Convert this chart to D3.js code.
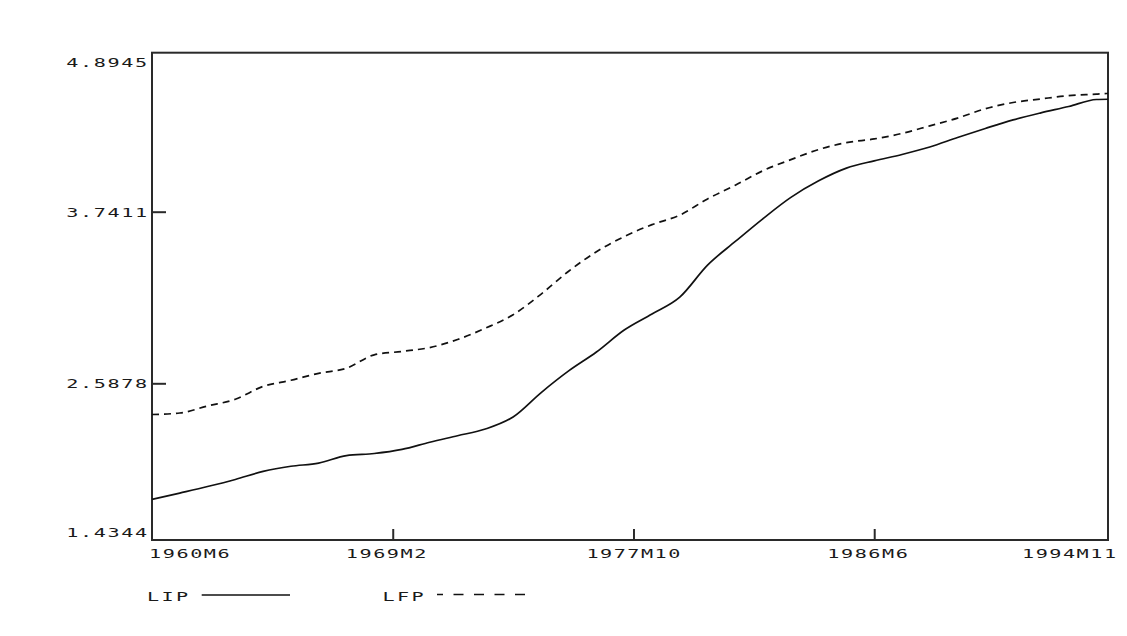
<!DOCTYPE html>
<html>
<head>
<meta charset="utf-8">
<script src="https://cdn.jsdelivr.net/npm/d3@7/dist/d3.min.js"></script>
<style>
  html, body { margin: 0; padding: 0; background: #ffffff; }
  svg { display: block; }
  text { font-family: "DejaVu Sans Mono", "Liberation Mono", monospace; font-size: 13px; fill: #1a1a1a; }
</style>
</head>
<body>
<svg id="chart" width="1127" height="636"></svg>
<script>
// Observation periods (yearly, every June, plus the final month)
const periods = [
  "1960M6","1961M6","1962M6","1963M6","1964M6","1965M6","1966M6","1967M6","1968M6","1969M6",
  "1970M6","1971M6","1972M6","1973M6","1974M6","1975M6","1976M6","1977M6","1978M6","1979M6",
  "1980M6","1981M6","1982M6","1983M6","1984M6","1985M6","1986M6","1987M6","1988M6","1989M6",
  "1990M6","1991M6","1992M6","1993M6","1994M6","1994M11"
];

// LIP series
const lip = [
  1.733, 1.780, 1.828, 1.880, 1.939, 1.977, 2.000, 2.056, 2.071, 2.101,
  2.154, 2.202, 2.251, 2.340, 2.518, 2.671, 2.798, 2.946, 3.054, 3.167,
  3.382, 3.541, 3.695, 3.845, 3.965, 4.057, 4.110, 4.156, 4.210, 4.279,
  4.345, 4.407, 4.458, 4.504, 4.555, 4.557
];

// LFP series
const lfp = [
  2.358, 2.369, 2.421, 2.470, 2.565, 2.608, 2.655, 2.689, 2.779, 2.802,
  2.828, 2.882, 2.958, 3.049, 3.186, 3.341, 3.472, 3.574, 3.654, 3.718,
  3.834, 3.933, 4.039, 4.119, 4.192, 4.242, 4.269, 4.309, 4.364, 4.420,
  4.488, 4.533, 4.559, 4.583, 4.594, 4.599
];

const seriesNames = ["LIP", "LFP"];
const xTickLabels = ["1960M6", "1969M2", "1977M10", "1986M6", "1994M11"];
const yTickValues = [1.4344, 2.5878, 3.7411, 4.8945];

// Month index counted from the first period
function monthIndex(p) {
  const [yr, m] = p.split("M").map(Number);
  return (yr - 1960) * 12 + (m - 6);
}

const svg = d3.select("#chart");
const plotLeft = 152, plotRight = 1108, plotTop = 52.7, plotBottom = 540;

const x = d3.scaleLinear()
  .domain([monthIndex(xTickLabels[0]), monthIndex(xTickLabels[xTickLabels.length - 1])])
  .range([plotLeft, plotRight]);

const y = d3.scaleLinear()
  .domain(yTickValues)
  .range([plotBottom, 383.3, 211.7, plotTop]);

// Wide, terminal-style lettering
const SX = 1.55;
function wideText(parent, px, py, str, anchor) {
  const w = str.length * 13.2 + 1.5;
  const g = parent.append("g").attr("transform", `translate(${px},${py}) scale(${SX},1)`);
  g.append("text")
    .attr("text-anchor", anchor)
    .attr("textLength", w / SX)
    .attr("lengthAdjust", "spacing")
    .text(str);
}

// Plot frame
svg.append("rect")
  .attr("x", plotLeft).attr("y", plotTop)
  .attr("width", plotRight - plotLeft).attr("height", plotBottom - plotTop)
  .attr("fill", "none").attr("stroke", "#2a2a2a").attr("stroke-width", 2);

// Inner tick marks
const innerX = xTickLabels.slice(1, -1).map(monthIndex);
const xAxis = svg.append("g").attr("transform", `translate(0,${plotBottom})`)
  .call(d3.axisBottom(x).tickValues(innerX).tickSize(-11).tickFormat(""));
const innerY = yTickValues.slice(1, -1);
const yAxis = svg.append("g").attr("transform", `translate(${plotLeft},0)`)
  .call(d3.axisLeft(y).tickValues(innerY).tickSize(-14).tickFormat(""));
[xAxis, yAxis].forEach(a => {
  a.select(".domain").remove();
  a.selectAll(".tick line").attr("stroke", "#2a2a2a").attr("stroke-width", 2);
});

// Y labels
yTickValues.forEach((v, i) => {
  const yy = y(v);
  let base;
  if (i === yTickValues.length - 1) base = yy + 14;
  else if (i === 0) base = yy - 3;
  else base = yy + 4.8;
  wideText(svg, 147, base, v.toFixed(4), "end");
});

// X labels
xTickLabels.forEach((lab, i) => {
  const xx = x(monthIndex(lab));
  const base = plotBottom + 18.3;
  if (i === 0) wideText(svg, xx - 3, base, lab, "start");
  else if (i === xTickLabels.length - 1) wideText(svg, xx + 8, base, lab, "end");
  else wideText(svg, xx - 47, base, lab, "start");
});

// Series lines
const line = d3.line()
  .curve(d3.curveMonotoneX)
  .x((d, i) => x(monthIndex(periods[i])))
  .y(d => y(d));

svg.append("path")
  .datum(lip)
  .attr("d", line)
  .attr("fill", "none").attr("stroke", "#111").attr("stroke-width", 1.7);

svg.append("path")
  .datum(lfp)
  .attr("d", line)
  .attr("fill", "none").attr("stroke", "#111").attr("stroke-width", 1.7)
  .attr("stroke-dasharray", "7,5");

// Legend
const legY = 595;
wideText(svg, 147, 601, seriesNames[0], "start");
svg.append("line")
  .attr("x1", 201.7).attr("x2", 290).attr("y1", legY).attr("y2", legY)
  .attr("stroke", "#111").attr("stroke-width", 1.5);
wideText(svg, 382.5, 601, seriesNames[1], "start");
svg.append("line")
  .attr("x1", 437).attr("x2", 526).attr("y1", legY - 0.5).attr("y2", legY - 0.5)
  .attr("stroke", "#111").attr("stroke-width", 1.5)
  .attr("stroke-dasharray", "10,10.5").attr("stroke-dashoffset", 4);
</script>
</body>
</html>
